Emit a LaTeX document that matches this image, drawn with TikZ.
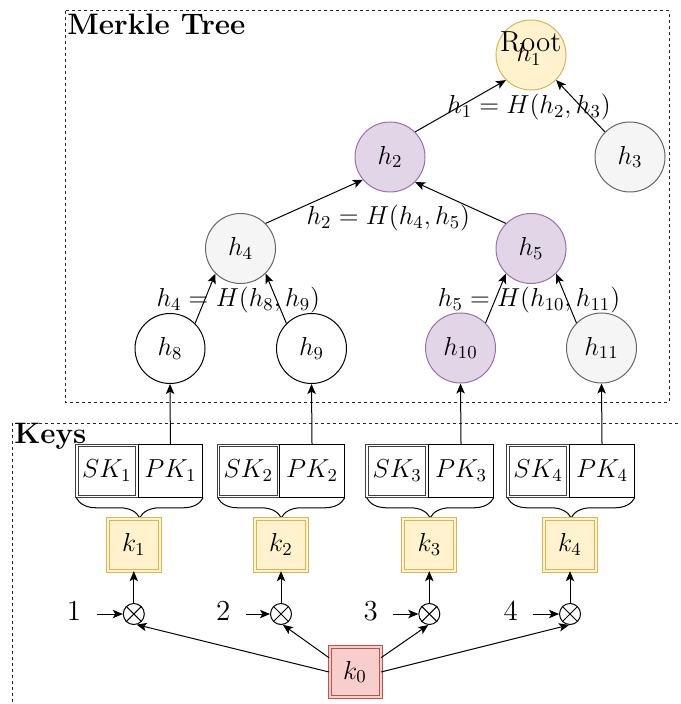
\documentclass[tikz,border=0pt]{standalone}
\usepackage{fix-cm}
\usepackage{fontspec}
\usetikzlibrary{arrows.meta,calc,decorations.pathreplacing}

\definecolor{yelfill}{HTML}{FFF2CC}
\definecolor{yeldraw}{HTML}{D6B656}
\definecolor{purfill}{HTML}{E1D5E7}
\definecolor{purdraw}{HTML}{9673A6}
\definecolor{gryfill}{HTML}{F5F5F5}
\definecolor{grydraw}{HTML}{666666}
\definecolor{redfill}{HTML}{F8CECC}
\definecolor{reddraw}{HTML}{B85450}

\tikzset{
  every node/.style={font=\fontsize{13}{15}\selectfont},
  frame/.style={draw=black!85, line width=0.5pt, dash pattern=on 1.5pt off 1.5pt},
  title/.style={font=\fontsize{14.8}{17}\selectfont\bfseries, inner sep=0pt, anchor=base west},
  hnode/.style={circle, minimum size=35pt, inner sep=0pt, line width=0.5pt},
  rootc/.style={fill=yelfill, draw=yeldraw},
  purc/.style={fill=purfill, draw=purdraw},
  gryc/.style={fill=gryfill, draw=grydraw},
  whtc/.style={fill=white, draw=black},
  elabel/.style={inner sep=0pt},
  numlbl/.style={font=\fontsize{14.5}{17}\selectfont},
  conn/.style={line width=0.5pt, -{Stealth[length=5pt, width=4.2pt, inset=1.2pt]}},
  skbox/.style={rectangle, draw=black!75, double=white, double distance=0.8pt, line width=0.5pt,
    minimum width=30pt, minimum height=25.5pt, inner sep=0pt},
  pkbox/.style={rectangle, draw=black, line width=0.5pt,
    minimum width=32.2pt, minimum height=26.5pt, inner sep=0pt},
  kbox/.style={rectangle, fill=yelfill, draw=yeldraw, double=yelfill, double distance=1pt,
    line width=0.5pt, minimum size=26pt, inner sep=0pt},
  kzero/.style={rectangle, fill=redfill, draw=reddraw, double=redfill, double distance=1pt,
    line width=0.5pt, minimum width=25.5pt, minimum height=25pt, inner sep=0pt},
  xorc/.style={circle, draw=black, fill=white, line width=0.5pt, minimum size=10.5pt, inner sep=0pt},
  curly/.style={decorate, decoration={brace, amplitude=10pt}, line width=0.5pt}
}

\begin{document}
\begin{tikzpicture}[x=0.5pt, y=-0.5pt]
\useasboundingbox (0,0) rectangle (680,704);
\clip (0,0) rectangle (680,704);

% ---------- frames ----------
\draw[frame] (65,11) rectangle (669,402);
\node[title] (mtitle) at (67,35) {Merkle Tree};
\draw[frame] (12,423) rectangle (690,720);
\node[title] (ktitle) at (14,443.5) {Keys};

% ---------- Merkle tree ----------
\node[hnode, rootc] (root) at (531,55) {};
\node[inner sep=0pt, anchor=base, font=\fontsize{14.5}{17}\selectfont] (rootname) at (530.8,51.7) {Root};
\node[inner sep=0pt, anchor=base] (rooth) at (529,61.7) {$h_1$};

\node[hnode, purc] (h2)  at (390,157)     {$h_2$};
\node[hnode, gryc] (h3)  at (630,157)     {$h_3$};
\node[hnode, gryc] (h4)  at (240.5,248.5) {$h_4$};
\node[hnode, purc] (h5)  at (531,248.5)   {$h_5$};
\node[hnode, whtc] (h8)  at (170,348.5)   {$h_8$};
\node[hnode, whtc] (h9)  at (311.5,348.5) {$h_9$};
\node[hnode, purc] (h10) at (460.5,348)   {$h_{10}$};
\node[hnode, gryc] (h11) at (601.5,348)   {$h_{11}$};

\draw[conn] (h2.45)   -- (root.225);
\draw[conn] (h3.135)  -- (root.-45);
\draw[conn] (h4.45)   -- (h2.220);
\draw[conn] (h5.135)  -- (h2.-45);
\draw[conn] (h8.45)   -- (h4.225);
\draw[conn] (h9.135)  -- (h4.-45);
\draw[conn] (h10.45)  -- (h5.225);
\draw[conn] (h11.135) -- (h5.-45);

\node[elabel] (l1) at (529,106.7)   {$h_1 = H(h_2,h_3)$};
\node[elabel] (l2) at (388.3,218.3) {$h_2 = H(h_4,h_5)$};
\node[elabel] (l4) at (238.3,300)   {$h_4 = H(h_8,h_9)$};
\node[elabel] (l5) at (529,300)     {$h_5 = H(h_{10},h_{11})$};

% ---------- key pairs ----------
\node[skbox] (sk1) at (106.8,470.8) {$SK_1$};
\node[pkbox, anchor=west] (pk1) at (137.7,470.8) {$PK_1$};
\node[skbox] (sk2) at (248.3,470.8) {$SK_2$};
\node[pkbox, anchor=west] (pk2) at (279.3,470.8) {$PK_2$};
\node[skbox] (sk3) at (397.2,470.8) {$SK_3$};
\node[pkbox, anchor=west] (pk3) at (428.3,470.8) {$PK_3$};
\node[skbox] (sk4) at (538,470.8) {$SK_4$};
\node[pkbox, anchor=west] (pk4) at (569.3,470.8) {$PK_4$};

\draw[conn] (pk1.north) -- (h8.south);
\draw[conn] (pk2.north) -- (h9.south);
\draw[conn] (pk3.north) -- (h10.south);
\draw[conn] (pk4.north) -- (h11.south);

\draw[curly] (pk1.south east) -- (pk1.south east -| sk1.west);
\draw[curly] (pk2.south east) -- (pk2.south east -| sk2.west);
\draw[curly] (pk3.south east) -- (pk3.south east -| sk3.west);
\draw[curly] (pk4.south east) -- (pk4.south east -| sk4.west);

% ---------- derived keys ----------
\node[kbox] (k1) at (133.8,544.7) {$k_1$};
\node[kbox] (k2) at (281,544.7)   {$k_2$};
\node[kbox] (k3) at (429.3,544.7) {$k_3$};
\node[kbox] (k4) at (570,544.7)   {$k_4$};

\node[xorc] (x1) at (133.8,614) {};
\node[xorc] (x2) at (281,614)   {};
\node[xorc] (x3) at (429.3,614) {};
\node[xorc] (x4) at (570,614)   {};
\foreach \x in {x1,x2,x3,x4}{
  \draw[line width=0.5pt] (\x.45) -- (\x.225) (\x.135) -- (\x.-45);
}

\draw[conn] (x1.north) -- (k1.south);
\draw[conn] (x2.north) -- (k2.south);
\draw[conn] (x3.north) -- (k3.south);
\draw[conn] (x4.north) -- (k4.south);

\node[numlbl] (n1) at (74,611)    {1};
\node[numlbl] (n2) at (223.3,611) {2};
\node[numlbl] (n3) at (370.7,611) {3};
\node[numlbl] (n4) at (510.7,611) {4};
\coordinate (a1) at (96.7,614);
\coordinate (a2) at (246,614);
\coordinate (a3) at (392.7,614);
\coordinate (a4) at (532.7,614);
\draw[conn] (a1) -- (x1.west);
\draw[conn] (a2) -- (x2.west);
\draw[conn] (a3) -- (x3.west);
\draw[conn] (a4) -- (x4.west);

% ---------- master key ----------
\node[kzero] (k0) at (355,672) {$k_0$};
\draw[conn] (k0.west) -- (x1.-75);
\draw[conn] ($(k0.north west)!0.22!(k0.south west)$) -- (x2.-80);
\draw[conn] ($(k0.north east)!0.22!(k0.south east)$) -- (x3.-95);
\draw[conn] (k0.east) -- (x4.-95);
\end{tikzpicture}
\end{document}
